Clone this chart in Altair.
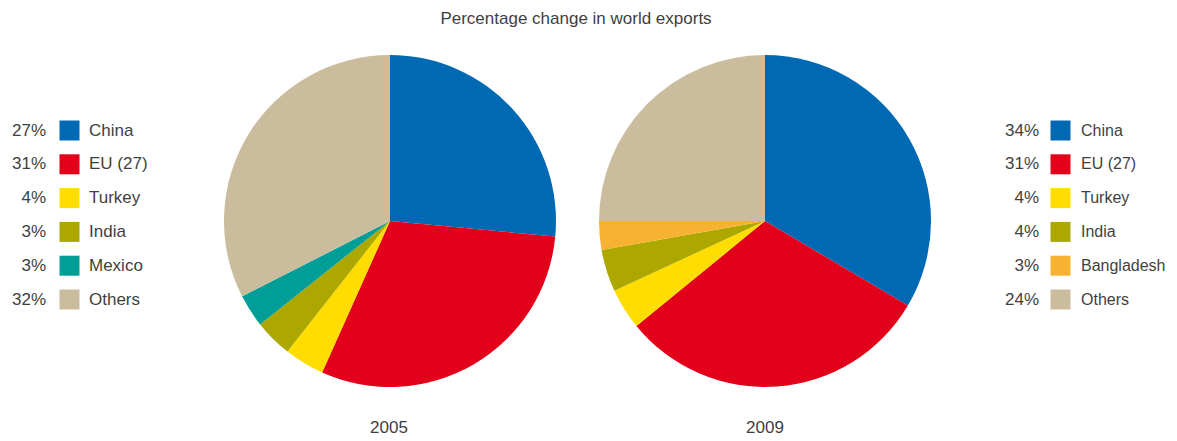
import altair as alt
import pandas as pd

# ---- data ----
years = ["2005", "2009"]
categories_2005 = ["China", "EU (27)", "Turkey", "India", "Mexico", "Others"]
values_2005 = [26.5, 30.2, 3.9, 3.7, 3.2, 32.5]          # slice sizes as drawn
labels_2005 = ["27%", "31%", "4%", "3%", "3%", "32%"]      # legend labels as printed
categories_2009 = ["China", "EU (27)", "Turkey", "India", "Bangladesh", "Others"]
values_2009 = [33.5, 30.6, 4.0, 4.1, 2.8, 25.0]
labels_2009 = ["34%", "31%", "4%", "4%", "3%", "24%"]

color_domain = ["China", "EU (27)", "Turkey", "India", "Mexico", "Bangladesh", "Others"]
color_range = ["#0069B4", "#E2001A", "#FFDD00", "#ADA800", "#009E96", "#F7B233", "#CBBC9D"]

title_text = "Percentage change in world exports"

rows = []
for yr, cats, vals, labs in [("2005", categories_2005, values_2005, labels_2005),
                             ("2009", categories_2009, values_2009, labels_2009)]:
    for i, (c, v, l) in enumerate(zip(cats, vals, labs)):
        rows.append({"year": yr, "category": c, "value": v, "order": i, "pct": l})
df = pd.DataFrame(rows)

W, H = 1161, 428
FONT = "Liberation Sans"
TXT = "#3f3f3f"
FS = 17

color_scale = alt.Scale(domain=color_domain, range=color_range)
row_scale = alt.Scale(domain=[0, 5], range=[122.5, 291.5])

base = alt.Chart(df)


def pie(year, cx):
    return base.transform_filter(alt.datum.year == year).mark_arc(radius=166).encode(
        theta=alt.Theta("value:Q", stack=True),
        color=alt.Color("category:N", scale=color_scale, legend=None),
        order=alt.Order("order:Q"),
        x=alt.value(cx),
        y=alt.value(213),
    )


def legend(year, pct_x, sw_x, lab_x, lab_fs):
    b = base.transform_filter(alt.datum.year == year)
    y = alt.Y("order:Q", scale=row_scale, axis=None)
    pct = b.mark_text(align="right", baseline="middle", font=FONT, fontSize=FS, color=TXT).encode(
        x=alt.value(pct_x), y=y, text="pct:N")
    sw = b.mark_square(size=400, opacity=1).encode(
        x=alt.value(sw_x), y=y,
        color=alt.Color("category:N", scale=color_scale, legend=None))
    lab = b.mark_text(align="left", baseline="middle", font=FONT, fontSize=lab_fs, color=TXT).encode(
        x=alt.value(lab_x), y=y, text="category:N")
    return pct + sw + lab


def label(text, x, y, baseline):
    return alt.Chart(pd.DataFrame({"t": [text]})).mark_text(
        align="center", baseline=baseline, font=FONT, fontSize=FS, color=TXT
    ).encode(x=alt.value(x), y=alt.value(y), text="t:N")


chart = alt.layer(
    pie("2005", 382),
    pie("2009", 757),
    legend("2005", 38, 61.5, 81, FS),
    legend("2009", 1031, 1052.5, 1073, 16),
    label(title_text, 568, 11, "middle"),
    label(years[0], 381, 425, "alphabetic"),
    label(years[1], 757, 425, "alphabetic"),
).resolve_scale(theta="independent").properties(
    width=W, height=H, autosize=alt.AutoSizeParams(type="none"), padding=0
).configure(background="white").configure_view(stroke=None, strokeWidth=0)

chart.save("out.html", embed_options={"renderer": "svg", "actions": False})
